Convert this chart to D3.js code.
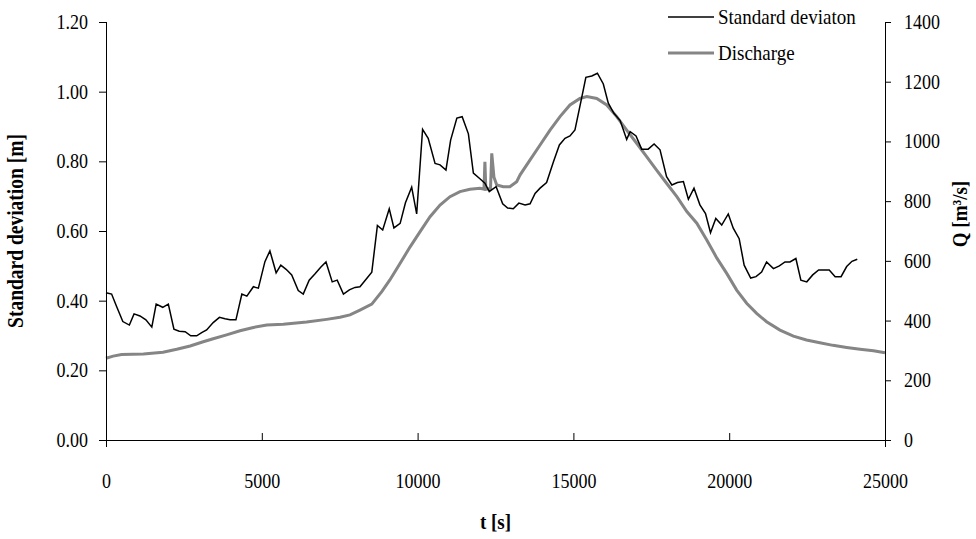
<!DOCTYPE html>
<html>
<head>
<meta charset="utf-8">
<script src="https://cdn.jsdelivr.net/npm/d3@7"></script>
<style>
  body { margin: 0; background: #fff; }
  svg text { font-family: "Times New Roman", "Liberation Serif", Tinos, "DejaVu Serif", serif; fill: #000; }
  svg text.tall { transform-box: fill-box; transform-origin: center; transform: scaleY(1.13); }
  .axis path, .axis line { stroke: #000; }
</style>
</head>
<body>
<div class="chart-container"></div>
<script>
// time [s] and standard deviation [m]
const sdTime = [0, 180, 340, 540, 750, 900, 1090, 1280, 1470, 1610, 1820, 2000, 2180, 2350, 2540, 2720, 2910,
  3070, 3230, 3440, 3640, 3820, 3980, 4170, 4360, 4520, 4730, 4890, 5100, 5260, 5460, 5610, 5780, 5960,
  6170, 6330, 6520, 6710, 6890, 7060, 7260, 7420, 7620, 7810, 7990, 8150, 8340, 8530, 8710, 8880, 9090,
  9240, 9440, 9610, 9810, 9970, 10160, 10340, 10560, 10720, 10910, 11060, 11260, 11430, 11630, 11790,
  12000, 12160, 12300, 12520, 12730, 12890, 13070, 13250, 13450, 13610, 13770, 13930, 14140, 14360,
  14550, 14730, 14890, 15050, 15230, 15400, 15590, 15770, 15960, 16120, 16300, 16500, 16710, 16820,
  17010, 17190, 17400, 17590, 17780, 17990, 18160, 18340, 18530, 18690, 18870, 19060, 19240, 19400,
  19570, 19760, 19970, 20130, 20320, 20480, 20690, 20860, 21040, 21200, 21420, 21610, 21790, 21950,
  22140, 22300, 22490, 22680, 22870, 23040, 23210, 23400, 23590, 23770, 23940, 24110];
const sdValue = [0.423, 0.419, 0.383, 0.340, 0.330, 0.362, 0.356, 0.345, 0.324, 0.390, 0.381, 0.390, 0.318,
  0.312, 0.311, 0.299, 0.299, 0.308, 0.316, 0.337, 0.352, 0.348, 0.345, 0.345, 0.419, 0.413, 0.440, 0.436,
  0.512, 0.543, 0.480, 0.502, 0.490, 0.474, 0.429, 0.419, 0.459, 0.477, 0.496, 0.511, 0.454, 0.459, 0.419,
  0.431, 0.438, 0.440, 0.461, 0.482, 0.616, 0.603, 0.664, 0.609, 0.622, 0.681, 0.726, 0.649, 0.892, 0.866,
  0.794, 0.790, 0.775, 0.861, 0.924, 0.928, 0.879, 0.766, 0.750, 0.737, 0.713, 0.727, 0.678, 0.666, 0.664,
  0.680, 0.675, 0.678, 0.708, 0.723, 0.739, 0.799, 0.847, 0.866, 0.873, 0.890, 0.967, 1.041, 1.045, 1.053,
  1.022, 0.967, 0.938, 0.917, 0.863, 0.885, 0.873, 0.835, 0.835, 0.850, 0.833, 0.756, 0.732, 0.739, 0.742,
  0.691, 0.723, 0.675, 0.650, 0.595, 0.636, 0.617, 0.649, 0.608, 0.578, 0.502, 0.465, 0.469, 0.482, 0.511,
  0.492, 0.500, 0.511, 0.511, 0.521, 0.459, 0.454, 0.474, 0.488, 0.488, 0.488, 0.469, 0.469, 0.498, 0.513,
  0.519];

// time [s] and discharge [m3/s]
const qTime = [0, 230, 500, 1200, 1830, 2270, 2700, 3120, 3440, 3870, 4300, 4730, 5160, 5690, 6440, 7080,
  7510, 7830, 8150, 8530, 8850, 9110, 9440, 9760, 10080, 10400, 10720, 11040, 11360, 11680, 12000, 12130,
  12160, 12190, 12340, 12380, 12450, 12540, 12750, 12960, 13180, 13290, 13610, 13930, 14250, 14570, 14890,
  15210, 15430, 15750, 16070, 16390, 16710, 17030, 17350, 17670, 17990, 18320, 18640, 18960, 19280, 19600,
  19920, 20240, 20560, 20880, 21200, 21630, 22060, 22480, 22910, 23330, 23770, 24200, 24630, 25000];
const qValue = [274, 281, 286, 288, 294, 304, 315, 329, 339, 352, 366, 377, 385, 388, 395, 404, 411, 419, 435,
  455, 497, 536, 592, 647, 698, 748, 787, 815, 832, 840, 843, 840, 932, 840, 842, 960, 880, 854, 848, 848,
  865, 888, 938, 988, 1038, 1083, 1122, 1144, 1150, 1144, 1122, 1083, 1038, 994, 949, 904, 860, 815, 765,
  726, 670, 610, 558, 502, 458, 424, 396, 368, 348, 335, 326, 317, 310, 304, 299, 292];

const xTicks = [0, 5000, 10000, 15000, 20000, 25000];
const sdTicks = [0, 0.2, 0.4, 0.6, 0.8, 1.0, 1.2];
const qTicks = [0, 200, 400, 600, 800, 1000, 1200, 1400];

const seriesNames = ['Standard deviaton', 'Discharge'];
const seriesColors = ['#000000', '#858585'];

const serif = '"Times New Roman", "Liberation Serif", Tinos, "DejaVu Serif", serif';

const margin = { top: 22, right: 91, bottom: 99, left: 106 };
const width = 976 - margin.left - margin.right;
const height = 539 - margin.top - margin.bottom;

// scales
const xScale = d3.scaleLinear().domain([0, 25000]).range([0, width]);
const ySd = d3.scaleLinear().domain([0, 1.2]).range([height, 0]);
const yQ = d3.scaleLinear().domain([0, 1400]).range([height, 0]);

const svg = d3.select('.chart-container')
  .append('svg')
  .attr('width', 976)
  .attr('height', 539)
  .style('font-family', serif)
  .append('g')
  .attr('transform', `translate(${margin.left}, ${margin.top})`);

// lines
const sdData = sdTime.map((t, i) => ({ t: t, v: sdValue[i] }));
const qData = qTime.map((t, i) => ({ t: t, v: qValue[i] }));

svg.append('path')
  .datum(qData)
  .attr('d', d3.line().x(d => xScale(d.t)).y(d => yQ(d.v)))
  .style('fill', 'none')
  .style('stroke', seriesColors[1])
  .style('stroke-width', 3);

svg.append('path')
  .datum(sdData)
  .attr('d', d3.line().x(d => xScale(d.t)).y(d => ySd(d.v)))
  .style('fill', 'none')
  .style('stroke', seriesColors[0])
  .style('stroke-width', 1.5);

// axes
const xAxis = d3.axisBottom(xScale)
  .tickValues(xTicks)
  .tickFormat(d3.format('d'))
  .tickSizeInner(-7)
  .tickSizeOuter(0)
  .tickPadding(34);

const xAxisDraw = svg.append('g')
  .attr('class', 'x axis')
  .attr('transform', `translate(0, ${height})`)
  .call(xAxis);

const leftAxis = d3.axisLeft(ySd)
  .tickValues(sdTicks)
  .tickFormat(d3.format('.2f'))
  .tickSizeInner(7)
  .tickSizeOuter(0)
  .tickPadding(11);

const leftAxisDraw = svg.append('g')
  .attr('class', 'y axis')
  .call(leftAxis);

const rightAxis = d3.axisRight(yQ)
  .tickValues(qTicks)
  .tickFormat(d3.format('d'))
  .tickSizeInner(6)
  .tickSizeOuter(0)
  .tickPadding(13);

const rightAxisDraw = svg.append('g')
  .attr('class', 'y axis')
  .attr('transform', `translate(${width}, 0)`)
  .call(rightAxis);

[xAxisDraw, leftAxisDraw, rightAxisDraw].forEach(a => {
  a.attr('font-family', serif);
  a.selectAll('text')
    .attr('class', 'tall')
    .style('font-size', '18px')
    .style('font-family', serif);
});

// y axis lines run a little below the x axis
leftAxisDraw.select('.domain').attr('d', `M0.5,0V${height + 7}`);
rightAxisDraw.select('.domain').attr('d', `M0.5,0V${height + 7}`);

// axis titles
svg.append('g')
  .attr('transform', `translate(${-84}, ${height / 2}) rotate(-90)`)
  .append('text')
  .attr('class', 'tall')
  .attr('text-anchor', 'middle')
  .style('font-size', '19.5px')
  .style('font-weight', 'bold')
  .text('Standard deviation [m]');

svg.append('g')
  .attr('transform', `translate(${width + 81}, ${height / 2 - 17}) rotate(-90)`)
  .append('text')
  .attr('class', 'tall')
  .attr('text-anchor', 'middle')
  .style('font-size', '19px')
  .style('font-weight', 'bold')
  .text('Q [m³/s]');

svg.append('text')
  .attr('class', 'tall')
  .attr('x', width / 2)
  .attr('y', height + 88)
  .attr('text-anchor', 'middle')
  .style('font-size', '19px')
  .style('font-weight', 'bold')
  .text('t [s]');

// legend
const legend = svg.append('g')
  .attr('class', 'legend')
  .attr('transform', `translate(${562}, ${-5})`)
  .selectAll('g')
  .data(seriesNames)
  .enter()
  .append('g')
  .attr('transform', (d, i) => `translate(0, ${i * 36})`);

legend.append('line')
  .attr('x1', 0)
  .attr('x2', 46)
  .style('stroke', (d, i) => seriesColors[i])
  .style('stroke-width', (d, i) => (i === 0 ? 1.5 : 3));

legend.append('text')
  .attr('class', 'tall')
  .attr('x', 50)
  .attr('dy', '0.33em')
  .style('font-size', '19px')
  .text(d => d);
</script>
</body>
</html>
